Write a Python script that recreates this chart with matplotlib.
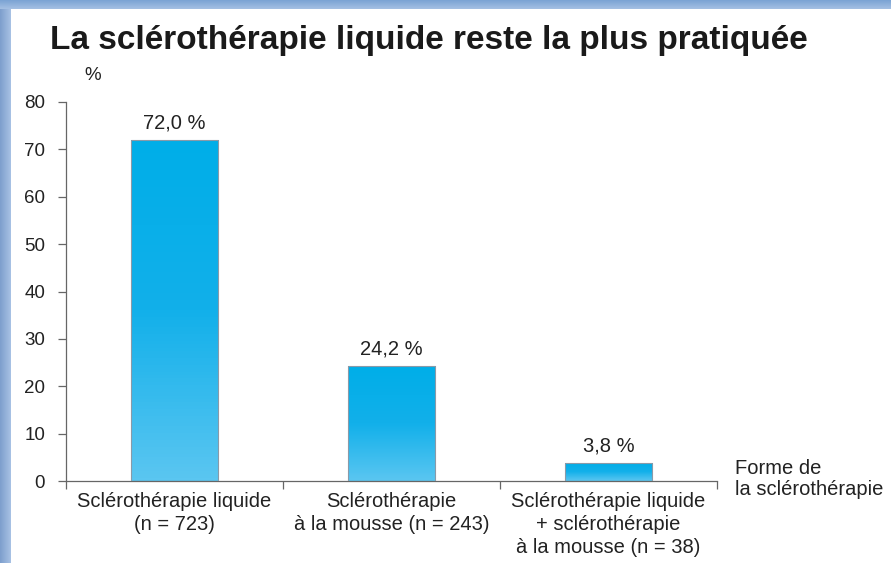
import matplotlib.pyplot as plt
import numpy as np
from matplotlib.colors import LinearSegmentedColormap

# Data
categories = [
    "Sclérothérapie liquide\n(n = 723)",
    "Sclérothérapie\nà la mousse (n = 243)",
    "Sclérothérapie liquide\n+ sclérothérapie\nà la mousse (n = 38)",
]
values = [72.0, 24.2, 3.8]
value_labels = ["72,0 %", "24,2 %", "3,8 %"]
y_ticks = [0, 10, 20, 30, 40, 50, 60, 70, 80]

regular = ["Liberation Sans", "DejaVu Sans"]

fig = plt.figure(figsize=(8.91, 5.63), dpi=100)
fig.patch.set_facecolor("white")

# Blue frame (top and left)
frame_top = fig.add_axes([0, 1 - 9 / 563, 1, 9 / 563])
frame_top.imshow(np.linspace(0, 1, 20).reshape(-1, 1), aspect="auto",
                 cmap=LinearSegmentedColormap.from_list("t", ["#7ba3d4", "#a4c0e3"]),
                 extent=[0, 1, 0, 1])
frame_top.axis("off")
frame_left = fig.add_axes([0, 0, 11 / 891, 1 - 9 / 563])
frame_left.imshow(np.linspace(0, 1, 20).reshape(1, -1), aspect="auto",
                  cmap=LinearSegmentedColormap.from_list("l", ["#7e9fcd", "#a7c1e4"]),
                  extent=[0, 1, 0, 1])
frame_left.axis("off")

ax = fig.add_axes([66 / 891, 1 - 481 / 563, (717 - 66) / 891, (481 - 102) / 563])

x = np.arange(len(values))
bars = ax.bar(x, values, width=0.405, color="none", edgecolor="#8a9aa8",
              linewidth=0.8, zorder=3)

grad = LinearSegmentedColormap.from_list("bar", ["#5ac6f1", "#12b0ea", "#00aee8"])
for b in bars:
    x0, y0 = b.get_x(), b.get_y()
    w, h = b.get_width(), b.get_height()
    im = ax.imshow(np.linspace(0, 1, 100).reshape(-1, 1), cmap=grad, aspect="auto",
                   origin="lower", extent=[x0, x0 + w, y0, y0 + h], zorder=2)
    im.set_clip_path(b)

for xi, v, lab in zip(x, values, value_labels):
    ax.text(xi, v + 1.6, lab, ha="center", va="bottom", fontsize=14.5,
            family=regular, color="#222222")

ax.set_xlim(-0.5, 2.5)
ax.set_ylim(0, 80)
ax.set_yticks(y_ticks)
ax.set_yticklabels([str(t) for t in y_ticks], family=regular, fontsize=13.5, color="#222222")
ax.set_xticks([-0.5, 0.5, 1.5, 2.5])
ax.set_xticklabels([])
ax.set_xticks(x, minor=True)
ax.set_xticklabels(categories, minor=True, family=regular, fontsize=14.5,
                   color="#222222", linespacing=1.25)
ax.tick_params(axis="x", which="minor", length=0, pad=8)
ax.tick_params(axis="x", which="major", length=6, color="#666666", width=0.9)
ax.tick_params(axis="y", length=6, color="#666666", width=0.9, pad=9)

for s in ["top", "right"]:
    ax.spines[s].set_visible(False)
for s in ["left", "bottom"]:
    ax.spines[s].set_color("#666666")
    ax.spines[s].set_linewidth(0.9)

fig.text(50 / 891, 1 - 40 / 563, "La sclérothérapie liquide reste la plus pratiquée",
         fontsize=24, fontweight="bold", family=regular, color="#1a1a1a", va="center")
fig.text(93 / 891, 1 - 76 / 563, "%", fontsize=13.5, family=regular, color="#222222",
         ha="center", va="center")
fig.text(735 / 891, 1 - 479 / 563, "Forme de\nla sclérothérapie", fontsize=14.5,
         family=regular, color="#222222", ha="left", va="center", linespacing=1.12)

fig.savefig("out.png", dpi=100)
